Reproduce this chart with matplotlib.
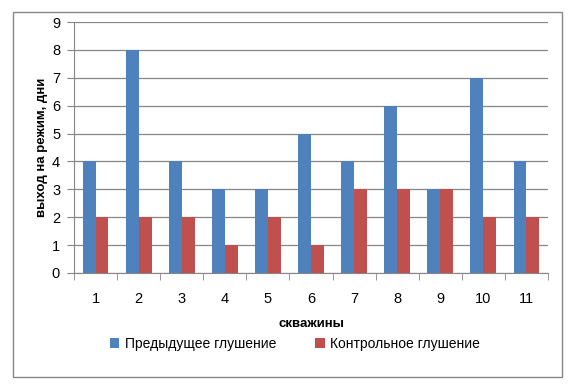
import matplotlib
matplotlib.use("Agg")
import matplotlib.pyplot as plt
import numpy as np
from matplotlib.patches import Rectangle

plt.rcParams['font.family'] = ['Liberation Sans', 'DejaVu Sans']

# data
wells = ["1", "2", "3", "4", "5", "6", "7", "8", "9", "10", "11"]
prev_kill = [4, 8, 4, 3, 3, 5, 4, 6, 3, 7, 4]
ctrl_kill = [2, 2, 2, 1, 2, 1, 3, 3, 3, 2, 2]
label_prev = "Предыдущее глушение"
label_ctrl = "Контрольное глушение"

BLUE = "#4F81BD"
RED = "#C0504D"

fig = plt.figure(figsize=(5.71, 3.91), dpi=100)
ax = fig.add_axes([74 / 571, 1 - 273 / 391, (548 - 74) / 571, (273 - 22) / 391])

x = np.arange(len(wells))
w = 0.3
ax.bar(x - w / 2, prev_kill, w, color=BLUE, label=label_prev, zorder=3)
ax.bar(x + w / 2, ctrl_kill, w, color=RED, label=label_ctrl, zorder=3)

ax.set_xlim(-0.5, len(wells) - 0.5)
ax.set_ylim(0, 9)
ax.set_yticks(range(0, 10))
ax.grid(axis="y", color="#868686", linewidth=0.9, zorder=0)

ax.set_xticks(x)
ax.set_xticklabels(wells, fontsize=10.5)
ax.set_xticks(np.arange(-0.5, len(wells)), minor=True)
ax.tick_params(axis="x", which="major", length=0, pad=14)
ax.tick_params(axis="x", which="minor", length=5, color="#868686", direction="out")
ax.tick_params(axis="y", length=5, color="#868686", labelsize=10.5, pad=5)

for s in ["top", "right"]:
    ax.spines[s].set_visible(False)
for s in ["left", "bottom"]:
    ax.spines[s].set_color("#868686")

ax.set_ylabel("выход на режим, дни", fontsize=9.5, fontweight="bold", labelpad=3)
ax.set_xlabel("скважины", fontsize=9.5, fontweight="bold", labelpad=8)

ax.legend(loc="upper center", bbox_to_anchor=(0.466, -0.205), ncol=2, frameon=False,
          fontsize=10, handlelength=0.7, handleheight=0.7, columnspacing=2.8, handletextpad=0.4)

# outer chart frame
fig.patches.append(Rectangle((13 / 571, 1 - 377 / 391), (562 - 13) / 571, (377 - 12) / 391,
                             transform=fig.transFigure, fill=False, edgecolor="#868686", linewidth=1))

fig.savefig("out.png", dpi=100)
